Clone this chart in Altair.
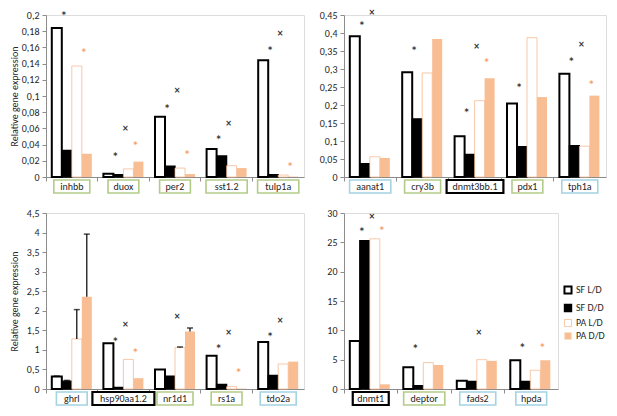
import altair as alt
import pandas as pd

SERIES = ["SF L/D", "SF D/D", "PA L/D", "PA D/D"]
FILLS = ["#ffffff", "#000000", "#ffffff", "#F8BD92"]
STROKES = ["#000000", "#000000", "#F4AE7E", "#F8BD92"]
STROKE_W = [2.0, 0.0, 1.5, 0.0]
BOX_COLORS = {"green": "#B3CB88", "blue": "#A3D4E2", "black": "#000000"}
BOX_WIDTHS = {"green": 1.6, "blue": 1.6, "black": 2.2}
ORANGE_STAR = "#F5A06A"
TXT = "#262626"
AX = "#8C8C8C"
FONT = "Carlito, 'Liberation Sans Narrow', Lato, sans-serif"

# ---------- panel A (top-left) ----------
a_genes = ["inhbb", "duox", "per2", "sst1.2", "tulp1a"]
a_boxes = ["green", "green", "green", "green", "green"]
a_sf_ld = [0.184, 0.004, 0.0745, 0.0347, 0.144]
a_sf_dd = [0.0327, 0.003, 0.0135, 0.026, 0.003]
a_pa_ld = [0.137, 0.010, 0.011, 0.014, 0.0024]
a_pa_dd = [0.0287, 0.019, 0.0036, 0.011, 0.0005]
a_star = [0.201, 0.027, 0.087, 0.048, 0.158]
a_cross = [None, 0.059, 0.106, 0.066, 0.176]
a_ostar = [0.155, 0.041, 0.030, None, 0.015]
a_ticks = [0, 0.02, 0.04, 0.06, 0.08, 0.1, 0.12, 0.14, 0.16, 0.18, 0.2]

# ---------- panel B (top-right) ----------
b_genes = ["aanat1", "cry3b", "dnmt3bb.1", "pdx1", "tph1a"]
b_boxes = ["blue", "green", "black", "green", "blue"]
b_sf_ld = [0.391, 0.291, 0.113, 0.204, 0.287]
b_sf_dd = [0.037, 0.1615, 0.0627, 0.084, 0.087]
b_pa_ld = [0.0565, 0.289, 0.212, 0.387, 0.0856]
b_pa_dd = [0.053, 0.383, 0.274, 0.222, 0.226]
b_star = [0.424, 0.355, 0.183, 0.253, 0.325]
b_cross = [0.455, None, 0.362, None, 0.366]
b_ostar = [None, None, 0.322, None, 0.262]
b_ticks = [0, 0.05, 0.1, 0.15, 0.2, 0.25, 0.3, 0.35, 0.4, 0.45]

# ---------- panel C (bottom-left) ----------
c_genes = ["ghrl", "hsp90aa1.2", "nr1d1", "rs1a", "tdo2a"]
c_boxes = ["blue", "black", "green", "green", "blue"]
c_sf_ld = [0.317, 1.17, 0.50, 0.85, 1.20]
c_sf_dd = [0.20, 0.04, 0.325, 0.12, 0.35]
c_pa_ld = [1.28, 0.756, 1.06, 0.06, 0.64]
c_pa_dd = [2.36, 0.276, 1.47, 0.01, 0.70]
c_err_sf_ld = [0.33, None, None, None, None]
c_err_sf_dd = [0.22, None, None, None, None]
c_err_pa_ld = [2.03, None, 1.075, None, None]
c_err_pa_dd = [3.96, None, 1.56, None, None]
c_star = [None, 1.26, None, 1.07, 1.37]
c_cross = [None, 1.64, 1.83, 1.44, 1.73]
c_ostar = [None, 0.97, None, 0.47, None]
c_ticks = [0, 0.5, 1, 1.5, 2, 2.5, 3, 3.5, 4, 4.5]

# ---------- panel D (bottom-right) ----------
d_genes = ["dnmt1", "deptor", "fads2", "hpda"]
d_boxes = ["black", "green", "blue", "blue"]
d_sf_ld = [8.2, 3.7, 1.4, 4.9]
d_sf_dd = [25.3, 0.55, 1.3, 1.3]
d_pa_ld = [25.6, 4.5, 5.0, 3.2]
d_pa_dd = [0.8, 4.1, 4.8, 4.9]
d_star = [27.1, 7.2, None, 7.3]
d_cross = [29.4, None, 9.6, None]
d_ostar = [27.2, None, None, 7.3]
d_ticks = [0, 5, 10, 15, 20, 25, 30]

BAR_STEP = 10.0

LEGEND = alt.Legend(
    orient="none", legendX=517, legendY=270, title=None, symbolType="square",
    symbolSize=50, symbolStrokeWidth=1.6, labelFontSize=10, labelColor=TXT,
    labelFont=FONT, rowPadding=3, labelOffset=3,
)


def panel(genes, boxes, vals, stars, crosses, ostars, ticks, w, h, ytitle, errs=None):
    rows = []
    for i, g in enumerate(genes):
        for s, arr in zip(SERIES, vals):
            rows.append({"gene": g, "series": s, "value": arr[i]})
    df = pd.DataFrame(rows)
    band = w / len(genes)
    po = max((band / BAR_STEP - 4) / 2, 0)
    ymax = ticks[-1]

    x = alt.X(
        "gene:N", sort=genes,
        scale=alt.Scale(paddingInner=0, paddingOuter=0),
        axis=alt.Axis(labels=False, title=None, ticks=True, tickSize=4, bandPosition=0,
                      domainColor=AX, tickColor=AX, domainWidth=1, tickWidth=1),
    )
    xo = alt.XOffset("series:N", sort=SERIES,
                     scale=alt.Scale(domain=SERIES, paddingInner=0, paddingOuter=po))
    yscale = alt.Scale(domain=[0, ymax], nice=False, zero=True)
    yaxis = alt.Axis(
        values=ticks, tickCount=len(ticks),
        labelExpr="replace(format(datum.value, '~g'), '.', ',')",
        labelOverlap=False, grid=False, domainColor=AX, tickColor=AX, tickSize=4,
        labelFontSize=10, labelColor=TXT, labelFont=FONT, labelPadding=3,
        title=ytitle if ytitle else None, titleFontSize=10, titleFontWeight="normal",
        titleColor=TXT, titleFont=FONT, titlePadding=2,
        minExtent=25, maxExtent=25,
    )

    def Y(field):
        return alt.Y(field, scale=yscale, axis=yaxis)

    bars = alt.Chart(df).mark_bar().encode(
        x=x, xOffset=xo,
        y=Y("value:Q"),
        fill=alt.Fill("series:N", sort=SERIES, scale=alt.Scale(domain=SERIES, range=FILLS), legend=LEGEND),
        stroke=alt.Stroke("series:N", sort=SERIES, scale=alt.Scale(domain=SERIES, range=STROKES), legend=LEGEND),
        strokeWidth=alt.StrokeWidth("series:N", scale=alt.Scale(domain=SERIES, range=STROKE_W), legend=None),
    )
    layers = [bars]

    if errs is not None:
        erows = []
        for i, g in enumerate(genes):
            for s, arr, varr in zip(SERIES, errs, vals):
                if arr[i] is not None:
                    erows.append({"gene": g, "series": s, "value": varr[i], "top": arr[i]})
        edf = pd.DataFrame(erows)
        layers.append(alt.Chart(edf).mark_rule(color="#000000", strokeWidth=1.2).encode(
            x=alt.X("gene:N", sort=genes), xOffset=alt.XOffset("series:N", sort=SERIES),
            y=Y("value:Q"), y2="top:Q"))
        layers.append(alt.Chart(edf).mark_tick(color="#000000", orient="horizontal",
                                               thickness=1.5, size=6).encode(
            x=alt.X("gene:N", sort=genes), xOffset=alt.XOffset("series:N", sort=SERIES),
            y=Y("top:Q")))

    def ann(values, series, glyph, color, size, dy):
        sel = [(g, v) for g, v in zip(genes, values) if v is not None]
        if not sel:
            return None
        adf = pd.DataFrame({"gene": [s[0] for s in sel], "y": [s[1] for s in sel],
                            "series": series, "t": glyph})
        return alt.Chart(adf).mark_text(fontSize=size, dx=-3, dy=dy, color=color,
                                        font="DejaVu Sans", fontWeight="bold").encode(
            x=alt.X("gene:N", sort=genes), xOffset=alt.XOffset("series:N", sort=SERIES),
            y=Y("y:Q"), text="t:N")

    for lay in [ann(stars, "SF D/D", "*", "#333333", 8, 2),
                ann(crosses, "PA L/D", "×", "#333333", 8, 0),
                ann(ostars, "PA D/D", "*", ORANGE_STAR, 8, 2)]:
        if lay is not None:
            layers.append(lay)

    # boxed category labels under the axis
    for style in ["green", "blue", "black"]:
        sel = [g for g, b in zip(genes, boxes) if b == style]
        if not sel:
            continue
        ldf = pd.DataFrame({"gene": sel, "bw": [5.2 * len(g) + 10 for g in sel]})
        layers.append(alt.Chart(ldf).mark_bar(fill="#ffffff", stroke=BOX_COLORS[style],
                                              strokeWidth=BOX_WIDTHS[style]).encode(
            x=alt.X("gene:N", sort=genes), y=alt.value(h + 3), y2=alt.value(h + 16),
            size=alt.Size("bw:Q", scale=None)))
    tdf = pd.DataFrame({"gene": genes})
    layers.append(alt.Chart(tdf).mark_text(fontSize=10, color=TXT, font=FONT, baseline="middle").encode(
        x=alt.X("gene:N", sort=genes), y=alt.value(h + 9.5), text="gene:N"))

    return alt.layer(*layers).properties(width=w, height=h)


tl = panel(a_genes, a_boxes, [a_sf_ld, a_sf_dd, a_pa_ld, a_pa_dd], a_star, a_cross, a_ostar,
           a_ticks, 258, 162, "Relative gene expression")
tr = panel(b_genes, b_boxes, [b_sf_ld, b_sf_dd, b_pa_ld, b_pa_dd], b_star, b_cross, b_ostar,
           b_ticks, 262, 162, None)
bl = panel(c_genes, c_boxes, [c_sf_ld, c_sf_dd, c_pa_ld, c_pa_dd], c_star, c_cross, c_ostar,
           c_ticks, 258, 176, "Relative gene expression",
           errs=[c_err_sf_ld, c_err_sf_dd, c_err_pa_ld, c_err_pa_dd])
br = panel(d_genes, d_boxes, [d_sf_ld, d_sf_dd, d_pa_ld, d_pa_dd], d_star, d_cross, d_ostar,
           d_ticks, 214, 176, None)

chart = alt.concat(tl, tr, bl, br, columns=2, spacing={"row": 36, "column": 40},
                   bounds="flush", align="each").properties(
    padding={"left": 0, "top": 0, "right": 0, "bottom": 0}
).configure_view(stroke=None).configure(font=FONT)

chart.save("out.html", embed_options={"renderer": "svg", "actions": False})
